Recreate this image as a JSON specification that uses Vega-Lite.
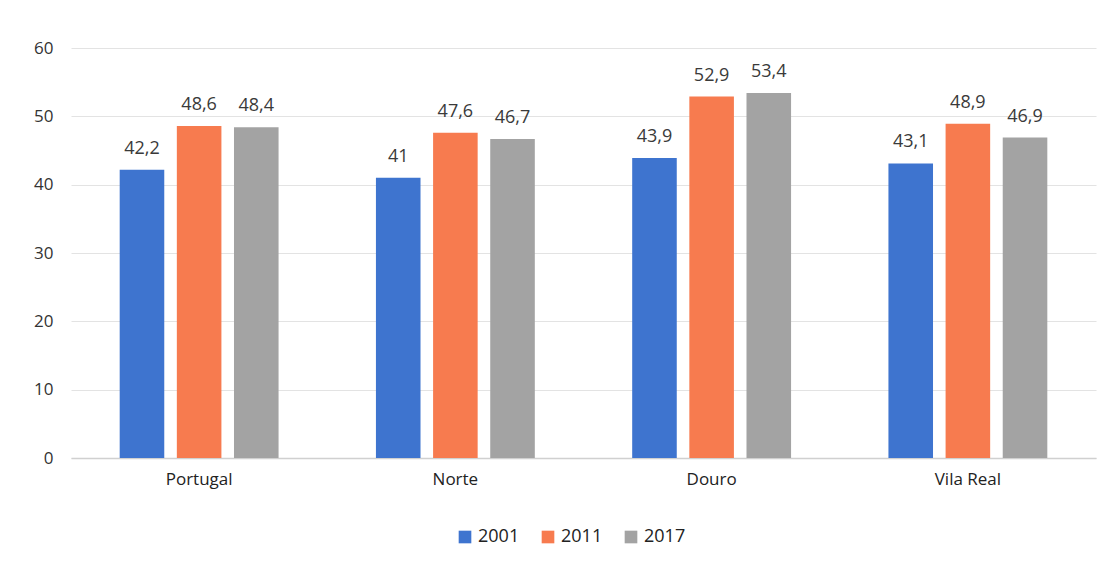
{
  "$schema": "https://vega.github.io/schema/vega-lite/v6.json",
  "width": 1025,
  "height": 410,
  "autosize": {"type": "none"},
  "padding": {"left": 71, "top": 48, "right": 13, "bottom": 110},
  "background": "white",
  "config": {"view": {"stroke": null}},
  "data": {
    "values": [
      {"region": "Portugal", "year": "2001", "value": 42.2, "label": "42,2"},
      {"region": "Portugal", "year": "2011", "value": 48.6, "label": "48,6"},
      {"region": "Portugal", "year": "2017", "value": 48.4, "label": "48,4"},
      {"region": "Norte", "year": "2001", "value": 41, "label": "41"},
      {"region": "Norte", "year": "2011", "value": 47.6, "label": "47,6"},
      {"region": "Norte", "year": "2017", "value": 46.7, "label": "46,7"},
      {"region": "Douro", "year": "2001", "value": 43.9, "label": "43,9"},
      {"region": "Douro", "year": "2011", "value": 52.9, "label": "52,9"},
      {"region": "Douro", "year": "2017", "value": 53.4, "label": "53,4"},
      {"region": "Vila Real", "year": "2001", "value": 43.1, "label": "43,1"},
      {"region": "Vila Real", "year": "2011", "value": 48.9, "label": "48,9"},
      {"region": "Vila Real", "year": "2017", "value": 46.9, "label": "46,9"}
    ]
  },
  "encoding": {
    "x": {
      "field": "region", "type": "nominal", "sort": null,
      "scale": {"paddingInner": 0.38, "paddingOuter": 0.19},
      "axis": {"title": null, "labelAngle": 0, "labelFont": "Open Sans", "labelFontSize": 17, "labelColor": "#222222", "labelPadding": 13, "ticks": false, "domainColor": "#d0d0d0", "domainWidth": 1.5}
    },
    "xOffset": {"field": "year", "type": "nominal", "scale": {"paddingInner": 0.22, "paddingOuter": 0}},
    "y": {
      "field": "value", "type": "quantitative",
      "scale": {"domain": [0, 60], "nice": false},
      "axis": {"title": null, "values": [0, 10, 20, 30, 40, 50, 60], "labelFont": "Open Sans", "labelFontSize": 17, "labelColor": "#333333", "labelPadding": 18, "ticks": false, "domain": false, "gridColor": "#e3e3e3", "gridWidth": 1.2}
    }
  },
  "layer": [
    {
      "mark": {"type": "bar"},
      "encoding": {
        "color": {
          "field": "year", "type": "nominal",
          "scale": {"domain": ["2001", "2011", "2017"], "range": ["#3e74cf", "#f77b4f", "#a3a3a3"]},
          "legend": {"title": null, "orient": "none", "legendX": 385, "legendY": 480, "direction": "horizontal", "symbolType": "square", "symbolSize": 160, "symbolStrokeWidth": 0, "labelFont": "Open Sans", "labelFontSize": 18, "labelColor": "#222222", "columnPadding": 19, "labelOffset": 4}
        }
      }
    },
    {
      "mark": {"type": "text", "baseline": "bottom", "dy": -12, "font": "Open Sans", "fontSize": 18, "color": "#3a3a3a"},
      "encoding": {"text": {"field": "label"}}
    }
  ]
}
